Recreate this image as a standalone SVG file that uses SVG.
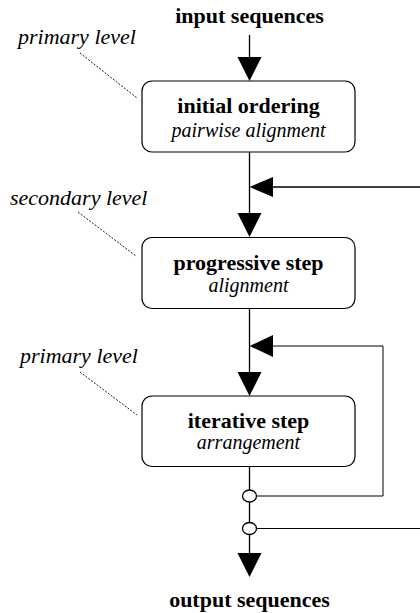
<svg xmlns="http://www.w3.org/2000/svg" width="420" height="613" viewBox="0 0 420 613">
  <defs>
    <style>
      .bold { font-family: "Liberation Serif", "Times New Roman", serif; font-weight: bold; font-size: 22px; fill: #000; text-anchor: middle; }
      .sub { font-family: "Liberation Serif", "Times New Roman", serif; font-style: italic; font-size: 20px; fill: #000; text-anchor: middle; }
      .level { font-family: "Liberation Serif", "Times New Roman", serif; font-style: italic; font-size: 22px; fill: #000; }
      .box { fill: #fff; stroke: #000; stroke-width: 1.2; }
      .wire { fill: none; stroke: #000; stroke-width: 1.3; }
      .thin { fill: none; stroke: #000; stroke-width: 1; }
      .leader { fill: none; stroke: #000; stroke-width: 0.9; stroke-dasharray: 2 1.5; }
      .head { fill: #000; }
      .tap { fill: #fff; stroke: #000; stroke-width: 1.3; }
    </style>
  </defs>
  <rect width="420" height="613" fill="#fff"/>

  <!-- connectors -->
  <g id="connectors">
    <!-- main flow -->
    <line class="wire" x1="249.5" y1="35" x2="249.5" y2="60"/>
    <line class="wire" x1="249.5" y1="152" x2="249.5" y2="215"/>
    <line class="wire" x1="249.5" y1="308" x2="249.5" y2="375"/>
    <line class="wire" x1="249.5" y1="466" x2="249.5" y2="490"/>
    <line class="wire" x1="249.5" y1="502" x2="249.5" y2="523"/>
    <line class="wire" x1="249.5" y1="535" x2="249.5" y2="556"/>
    <polygon class="head" points="237.5,57 261.5,57 249.5,81"/>
    <polygon class="head" points="237.5,213 261.5,213 249.5,237"/>
    <polygon class="head" points="237.5,372 261.5,372 249.5,396"/>
    <polygon class="head" points="237.5,553 261.5,553 249.5,577"/>

    <!-- outer feedback into progressive step -->
    <line class="wire" x1="271" y1="187" x2="420" y2="187"/>
    <polygon class="head" points="273,177 273,197 249.5,187"/>

    <!-- inner feedback loop around iterative step -->
    <polyline class="thin" points="256.5,496 383,496 383,346 271,346"/>
    <polygon class="head" points="273,335 273,357 249.5,346"/>

    <!-- branch out to the outer loop -->
    <line class="thin" x1="256.5" y1="528.5" x2="420" y2="528.5"/>
    <ellipse class="tap" cx="249.5" cy="496" rx="7" ry="6"/>
    <ellipse class="tap" cx="249.5" cy="528.5" rx="7" ry="6"/>

    <!-- level leaders -->
    <line class="leader" x1="80" y1="53" x2="137" y2="98"/>
    <line class="leader" x1="78" y1="212" x2="136" y2="256"/>
    <line class="leader" x1="80" y1="372" x2="137" y2="415"/>
  </g>

  <!-- terminal labels -->
  <text class="bold" x="249.5" y="22.5">input sequences</text>
  <text class="bold" x="249.5" y="606.5">output sequences</text>

  <!-- level labels -->
  <text class="level" x="18" y="44">primary level</text>
  <text class="level" x="10" y="205">secondary level</text>
  <text class="level" x="20" y="363">primary level</text>

  <g id="initial-ordering">
    <rect class="box" x="142" y="81" width="213" height="71" rx="10"/>
    <text class="bold" x="248.5" y="113">initial ordering</text>
    <text class="sub" x="248.5" y="136.5">pairwise alignment</text>
  </g>

  <g id="progressive-step">
    <rect class="box" x="142" y="237.5" width="213" height="71" rx="10"/>
    <text class="bold" x="248.5" y="269.5">progressive step</text>
    <text class="sub" x="248.5" y="292">alignment</text>
  </g>

  <g id="iterative-step">
    <rect class="box" x="142" y="396" width="213" height="70.5" rx="10"/>
    <text class="bold" x="248.5" y="427.5">iterative step</text>
    <text class="sub" x="248.5" y="448.5">arrangement</text>
  </g>
</svg>
